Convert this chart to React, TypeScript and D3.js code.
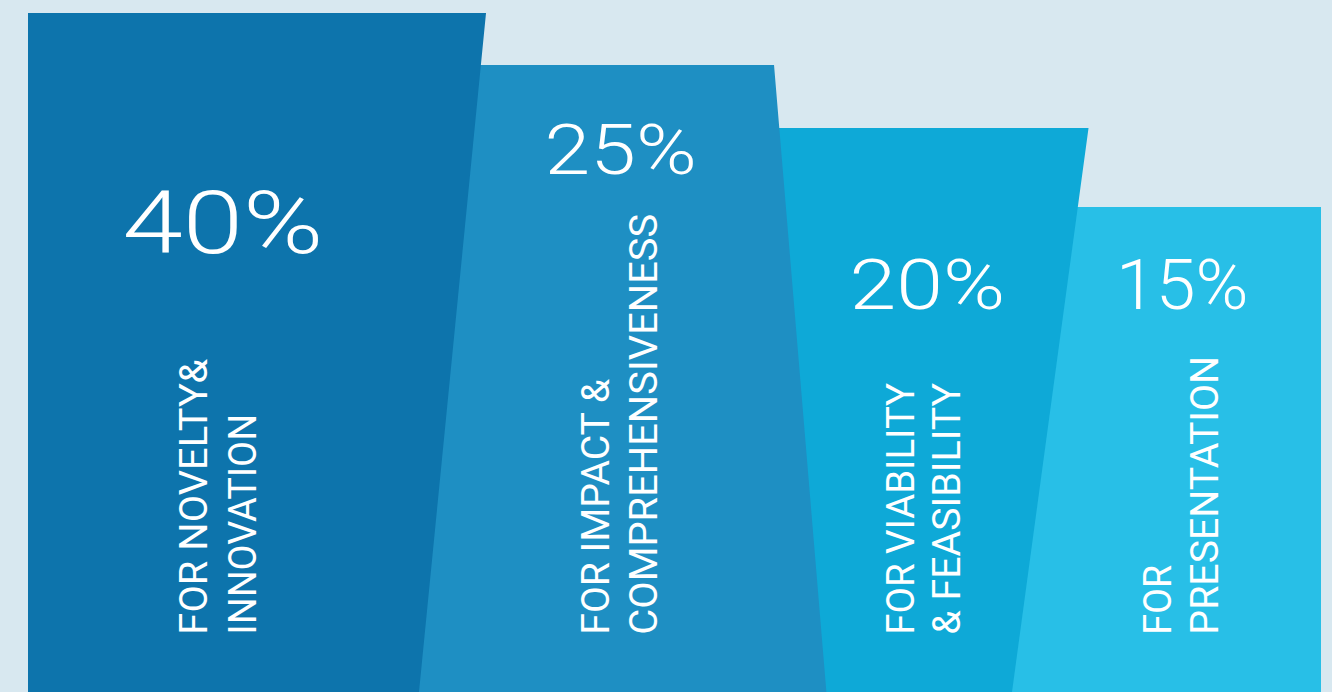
import React from "react";
import * as d3 from "d3";

// ---- data ----
const categories = ["Novelty & Innovation", "Impact & Comprehensiveness", "Viability & Feasibility", "Presentation"];
const values = [40, 25, 20, 15];
const percentLabels = ["40%", "25%", "20%", "15%"];
const labelLines = [
  ["FOR NOVELTY&", "INNOVATION"],
  ["FOR IMPACT &", "COMPREHENSIVENESS"],
  ["FOR VIABILITY", "& FEASIBILITY"],
  ["FOR", "PRESENTATION"],
];

// ---- layout / style ----
const W = 1332;
const H = 692;
const BG = "#d8e8f0";
const colors = ["#0d74ac", "#1e8fc3", "#0ea9d7", "#28bfe7"];
// piecewise scale: value -> top y of the shape
const topScale = d3.scaleLinear().domain([15, 20, 25, 40]).range([207, 128, 65, 13]);
// shape boundary lines, x at y=0 and at y=H
const edgeTop = [28, 487.3, 768.6, 1105.9, 1321];
const edgeBot = [28, 419, 826.4, 1012, 1321];
const yToT = d3.scaleLinear().domain([0, H]).range([0, 1]);
const edgeX = (i: number, y: number) => d3.interpolateNumber(edgeTop[i], edgeBot[i])(yToT(y));

const pctInkLeft = [125, 546.7, 851.7, 1118];
const pctInkW = [194, 146.6, 150, 127];
const pctBase = [253.3, 174.3, 309, 309];
const pctSize = [86.8, 69.6, 69.6, 69.6];

const lineBaseX = [
  [207, 256],
  [608.5, 657],
  [913.5, 960],
  [1171, 1218],
];
const lineLen = [
  [272, 217],
  [252, 417],
  [248, 248],
  [66, 275],
];
const lineStartY = 632;
const lineSize = 38;

export default function App() {
  const shapes = values.map((v, i) => {
    const t = topScale(v);
    const pts: [number, number][] = [
      [edgeX(i, t), t],
      [edgeX(i + 1, t), t],
    ];
    if (i < values.length - 1) {
      const tn = topScale(values[i + 1]);
      pts.push([edgeX(i + 1, tn), tn]);
      pts.push([edgeX(i + 1, tn) + 2, tn]);
      pts.push([edgeX(i + 1, H) + 2, H]);
    } else {
      pts.push([edgeX(i + 1, H), H]);
    }
    pts.push([edgeX(i, H), H]);
    const path = d3.line()(pts) + "Z";
    return path;
  });

  return (
    <svg
      width={W}
      height={H}
      style={{ position: "absolute", left: 0, top: 0, display: "block" }}
      fontFamily="Roboto, 'Open Sans', sans-serif"
    >
      <rect x={0} y={0} width={W} height={H} fill={BG} />
      {shapes.map((d, i) => (
        <path key={categories[i]} d={d} fill={colors[i]} />
      ))}
      {percentLabels.map((p, i) => (
        <text
          key={p}
          x={pctInkLeft[i] - 0.03 * pctSize[i]}
          y={pctBase[i]}
          fontSize={pctSize[i]}
          fontWeight={300}
          fill="#ffffff"
          textLength={pctInkW[i] + 0.08 * pctSize[i]}
          lengthAdjust="spacingAndGlyphs"
        >
          {p}
        </text>
      ))}
      {labelLines.map((lines, i) =>
        lines.map((ln, j) => (
          <text
            key={i + "-" + j}
            transform={`translate(${lineBaseX[i][j]},${lineStartY}) rotate(-90)`}
            x={-0.07 * lineSize}
            y={0}
            fontSize={lineSize}
            fontWeight={400}
            fill="#ffffff"
            textLength={lineLen[i][j] + 0.1 * lineSize}
            lengthAdjust="spacingAndGlyphs"
          >
            {ln}
          </text>
        ))
      )}
    </svg>
  );
}
